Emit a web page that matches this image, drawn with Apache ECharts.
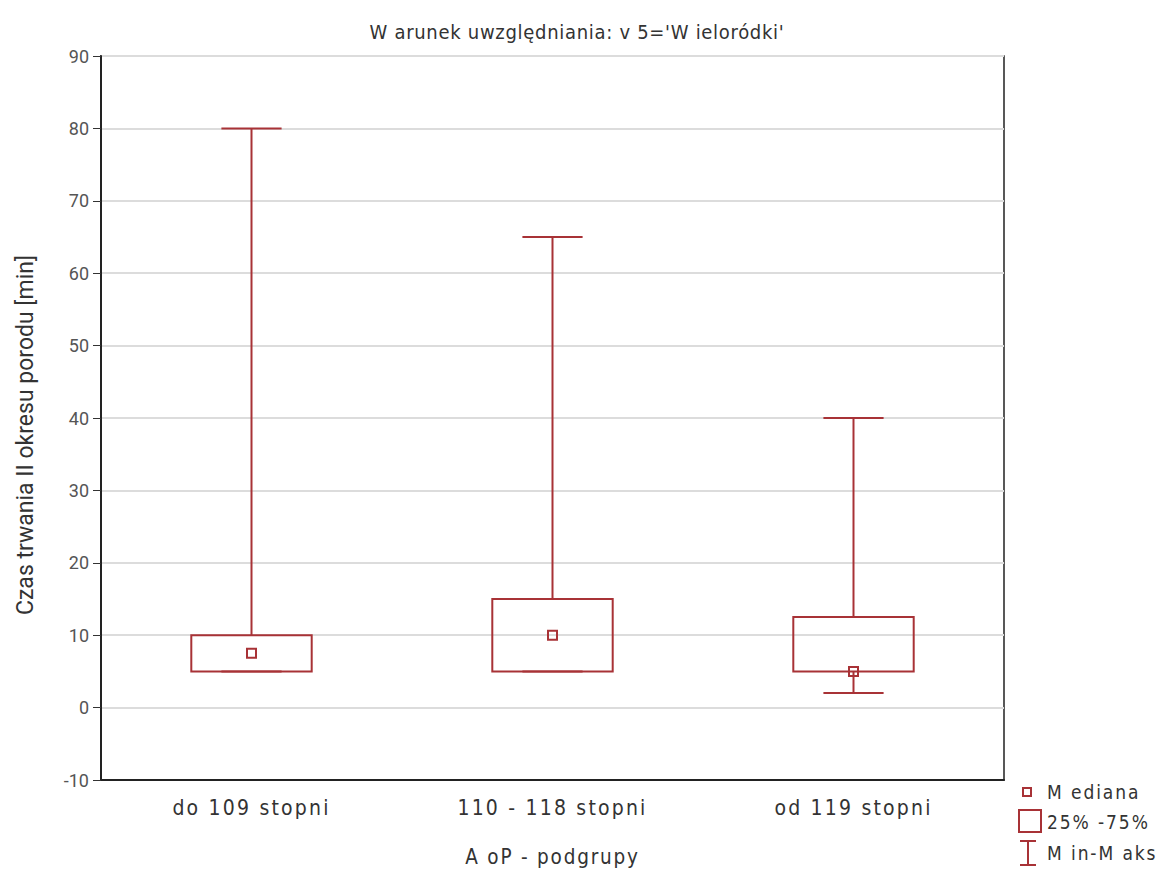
<!DOCTYPE html>
<html>
<head>
<meta charset="utf-8">
<script src="https://cdn.jsdelivr.net/npm/echarts@6/dist/echarts.min.js"></script>
<style>
  html, body { margin: 0; padding: 0; background: #fff; }
  #chart { width: 1163px; height: 870px; }
  /* the condensed labels are set with wide tracking */
  #chart svg text[style*="Condensed"] { letter-spacing: 2px; }
  #chart svg text[style*="Condensed"][style*="20px"] { letter-spacing: 0.7px; }
  #chart svg text[style*="Condensed"][style*="21px"] { letter-spacing: 2.2px; }
  #chart svg text[style*="Condensed"][style*="20.5px"] { letter-spacing: 1.8px; }
  #chart svg text[style*="Condensed"][style*="19px"] { letter-spacing: 1.9px; }
</style>
</head>
<body>
<div id="chart"></div>
<script>
// Five-number summaries per group: min, Q1, median, Q3, max
const categories = ['do 109 stopni', '110 - 118 stopni', 'od 119 stopni'];
const minValues    = [5, 5, 2];
const q1Values     = [5, 5, 5];
const medianValues = [7.5, 10, 5];
const q3Values     = [10, 15, 12.5];
const maxValues    = [80, 65, 40];
const yTicks = { min: -10, max: 90, step: 10 };

const RED = '#a83236';
const COND = "'DejaVu Sans Condensed', 'Liberation Sans Narrow', sans-serif";

const boxData = categories.map((c, i) => [i, minValues[i], q1Values[i], medianValues[i], q3Values[i], maxValues[i]]);

function renderBox(params, api) {
  const i = api.value(0);
  const band = api.size([1, 0])[0];
  const boxW = band * 0.4;
  const capW = band * 0.2;
  const pMin = api.coord([i, api.value(1)]);
  const pQ1 = api.coord([i, api.value(2)]);
  const pMed = api.coord([i, api.value(3)]);
  const pQ3 = api.coord([i, api.value(4)]);
  const pMax = api.coord([i, api.value(5)]);
  const cx = pMed[0];
  const stroke = { stroke: RED, lineWidth: 2, fill: null };
  return {
    type: 'group',
    children: [
      { type: 'line', shape: { x1: cx, y1: pMax[1], x2: cx, y2: pQ3[1] }, style: stroke },
      { type: 'line', shape: { x1: cx, y1: pQ1[1], x2: cx, y2: pMin[1] }, style: stroke },
      { type: 'line', shape: { x1: cx - capW / 2, y1: pMax[1], x2: cx + capW / 2, y2: pMax[1] }, style: stroke },
      { type: 'line', shape: { x1: cx - capW / 2, y1: pMin[1], x2: cx + capW / 2, y2: pMin[1] }, style: stroke },
      { type: 'rect', shape: { x: cx - boxW / 2, y: pQ3[1], width: boxW, height: pQ1[1] - pQ3[1] },
        style: { stroke: RED, lineWidth: 2, fill: 'rgba(255,255,255,0)' } },
      { type: 'rect', shape: { x: cx - 4.5, y: pMed[1] - 4.5, width: 9, height: 9 },
        style: { stroke: RED, lineWidth: 2, fill: 'rgba(255,255,255,0)' } }
    ]
  };
}

const chart = echarts.init(document.getElementById('chart'), null, { renderer: 'svg' });

const legendFont = "19px 'DejaVu Sans Condensed', 'Liberation Sans Narrow', sans-serif";
chart.setOption({
  backgroundColor: '#fff',
  animation: false,
  title: {
    text: "W arunek uwzględniania: v 5='W ieloródki'",
    left: 572, top: 17, textAlign: 'center',
    textStyle: { fontFamily: COND, fontSize: 20, fontWeight: 'normal', color: '#333' }
  },
  grid: {
    left: 101, right: 159, top: 56, bottom: 90,
    outerBoundsMode: 'none',
    show: true, borderColor: '#222', borderWidth: 1.5
  },
  xAxis: {
    type: 'category',
    data: categories,
    name: 'A oP - podgrupy',
    nameLocation: 'middle',
    nameGap: 66,
    nameTextStyle: { fontFamily: COND, fontSize: 20.5, color: '#333' },
    axisLine: { onZero: false, lineStyle: { color: '#222', width: 2 } },
    axisTick: { alignWithLabel: true, length: 6, lineStyle: { color: '#333', width: 1 } },
    axisLabel: { fontFamily: COND, fontSize: 21, color: '#333', margin: 17 },
    splitLine: { show: false }
  },
  yAxis: {
    type: 'value',
    min: yTicks.min, max: yTicks.max, interval: yTicks.step,
    axisLine: { show: true, lineStyle: { color: '#222', width: 2 } },
    axisTick: { show: true, length: 8, lineStyle: { color: '#333', width: 1 } },
    axisLabel: { fontFamily: 'Roboto', fontSize: 18, color: '#555', margin: 12 },
    splitLine: { show: true, lineStyle: { color: '#dcdcdc', width: 2 } }
  },
  series: [{
    type: 'custom',
    renderItem: renderBox,
    encode: { x: 0, y: [1, 2, 3, 4, 5] },
    data: boxData,
    clip: false
  }],
  graphic: [
    // vertical axis title
    { type: 'text', x: 25, y: 435, rotation: Math.PI / 2,
      style: { text: 'Czas trwania II okresu porodu [min]', font: "23px Roboto", fill: '#333',
               textAlign: 'center', textVerticalAlign: 'middle' } },
    // key
    { type: 'rect', shape: { x: 1023, y: 788, width: 8, height: 8 }, style: { stroke: RED, lineWidth: 2, fill: '#fff' } },
    { type: 'text', x: 1047, y: 792, style: { text: 'M ediana', font: legendFont, fill: '#333', textVerticalAlign: 'middle' } },
    { type: 'rect', shape: { x: 1019, y: 810, width: 22, height: 22 }, style: { stroke: RED, lineWidth: 2, fill: '#fff' } },
    { type: 'text', x: 1047, y: 822, style: { text: '25% -75%', font: legendFont, fill: '#333', textVerticalAlign: 'middle' } },
    { type: 'line', shape: { x1: 1020, y1: 841, x2: 1036, y2: 841 }, style: { stroke: RED, lineWidth: 2 } },
    { type: 'line', shape: { x1: 1028, y1: 841, x2: 1028, y2: 865 }, style: { stroke: RED, lineWidth: 2 } },
    { type: 'line', shape: { x1: 1020, y1: 865, x2: 1036, y2: 865 }, style: { stroke: RED, lineWidth: 2 } },
    { type: 'text', x: 1047, y: 853, style: { text: 'M in-M aks', font: legendFont, fill: '#333', textVerticalAlign: 'middle' } }
  ]
});
</script>
</body>
</html>
